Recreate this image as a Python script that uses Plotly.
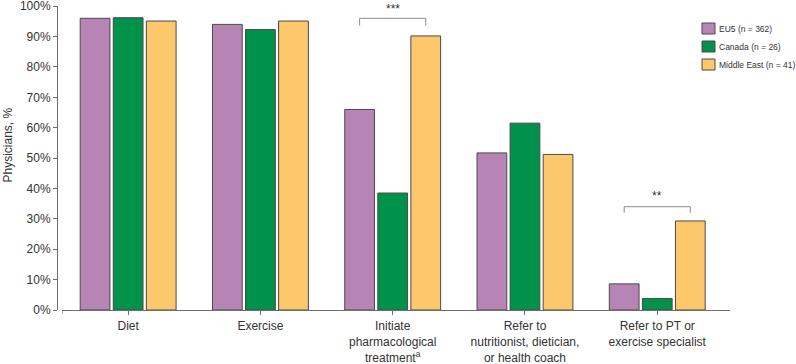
import plotly.graph_objects as go

categories = [
    "Diet",
    "Exercise",
    "Initiate<br>pharmacological<br>treatment<sup>a</sup>",
    "Refer to<br>nutritionist, dietician,<br>or health coach",
    "Refer to PT or<br>exercise specialist",
]
series_names = ["EU5 (n = 362)", "Canada (n = 26)", "Middle East (n = 41)"]
eu5 = [96.0, 94.0, 66.0, 51.7, 8.6]
canada = [96.2, 92.3, 38.5, 61.5, 3.8]
middle_east = [95.1, 95.1, 90.2, 51.2, 29.3]
y_ticks = [0, 10, 20, 30, 40, 50, 60, 70, 80, 90, 100]
y_tick_labels = [f"{v}%" for v in y_ticks]
y_title = "Physicians, %"

# significance brackets
sig_cat = [2, 4]
sig_label = ["***", "**"]
sig_top = [96.0, 34.0]
sig_drop = [2.4, 2.0]
sig_text_y = [99.0, 37.4]

colors = ["#B784B6", "#00914A", "#FDC76B"]
values = [eu5, canada, middle_east]

FONT = "Arial, Liberation Sans, sans-serif"
W, H = 796, 364
ML, MR, MT, MB = 57, 66, 6, 54
PW = W - ML - MR
PH = H - MT - MB
bargap = 0.25
bargroupgap = 0.1


def px_x(p):
    return (p - ML) / PW


def px_y(p):
    return (H - MB - p) / PH


fig = go.Figure()
idx = list(range(len(categories)))
for name, vals, col in zip(series_names, values, colors):
    fig.add_trace(go.Bar(
        x=idx, y=vals, name=name, showlegend=False,
        marker=dict(color=col, line=dict(color="#4a4a4a", width=1)),
    ))

slot = (1 - bargap) / 3
shapes = []
annotations = []
for c, lab, top, drop, ty in zip(sig_cat, sig_label, sig_top, sig_drop, sig_text_y):
    x0 = c - slot
    x1 = c + slot
    shapes.append(dict(
        type="path", xref="x", yref="y",
        path=f"M {x0},{top - drop} L {x0},{top} L {x1},{top} L {x1},{top - drop}",
        line=dict(color="#8c8c8c", width=1),
    ))
    annotations.append(dict(
        x=c, y=ty, xref="x", yref="y", text=lab, showarrow=False,
        font=dict(family=FONT, size=12, color="#333333"),
    ))

# small tick at left end of x axis
shapes.append(dict(type="line", xref="x", yref="paper", x0=-0.5, x1=-0.5,
                   y0=0, y1=-4 / PH, line=dict(color="#6e6e6e", width=1)))

# manual legend
leg_x0, leg_w, leg_h = 702, 13, 11
leg_y = [28.5, 46.5, 64.5]
for name, col, yc in zip(series_names, colors, leg_y):
    shapes.append(dict(
        type="rect", xref="paper", yref="paper",
        x0=px_x(leg_x0), x1=px_x(leg_x0 + leg_w),
        y0=px_y(yc + leg_h / 2), y1=px_y(yc - leg_h / 2),
        fillcolor=col, line=dict(color="#4a4a4a", width=1),
    ))
    annotations.append(dict(
        x=px_x(leg_x0 + leg_w + 2), y=px_y(yc), xref="paper", yref="paper",
        xanchor="left", yanchor="middle", text=name, showarrow=False,
        font=dict(family=FONT, size=8.5, color="#333333"),
    ))

# y-axis title
annotations.append(dict(
    x=px_x(7.5), y=px_y(145), xref="paper", yref="paper",
    xanchor="center", yanchor="middle", text=y_title, textangle=-90,
    showarrow=False, font=dict(family=FONT, size=12, color="#333333"),
))

fig.update_layout(
    width=W, height=H,
    margin=dict(l=ML, r=MR, t=MT, b=MB, autoexpand=False),
    plot_bgcolor="white", paper_bgcolor="white",
    barmode="group", bargap=bargap, bargroupgap=bargroupgap,
    font=dict(family=FONT, size=12, color="#333333"),
    shapes=shapes, annotations=annotations,
    showlegend=False,
    xaxis=dict(
        domain=[(62 - ML) / PW, 1], range=[-0.5, 4.55],
        tickmode="array", tickvals=idx, ticktext=categories,
        showline=True, linecolor="#6e6e6e", linewidth=1,
        ticks="outside", ticklen=4, tickcolor="#6e6e6e",
        showgrid=False, zeroline=False, automargin=False,
        ticklabelstandoff=1, ticklabeloverflow="allow",
        tickfont=dict(family=FONT, size=12, color="#333333"),
    ),
    yaxis=dict(
        anchor="free", position=0, range=[0, 100.05],
        tickmode="array", tickvals=y_ticks, ticktext=y_tick_labels,
        showline=True, linecolor="#6e6e6e", linewidth=1,
        ticks="outside", ticklen=4, tickcolor="#6e6e6e",
        showgrid=False, zeroline=False, automargin=False,
        ticklabeloverflow="allow",
        tickfont=dict(family=FONT, size=12, color="#333333"),
    ),
)

fig.write_html("out.html", config={"displayModeBar": False},
               post_script="document.body.style.margin='0';")
